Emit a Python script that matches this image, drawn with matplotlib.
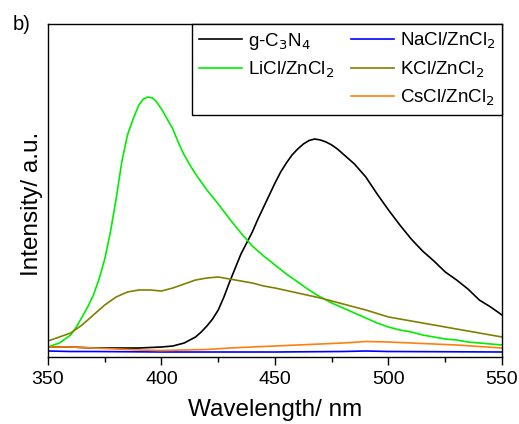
import numpy as np
import matplotlib.pyplot as plt

plt.rcParams['font.family'] = ['Liberation Sans', 'DejaVu Sans']

# values (arbitrary units), each series with its own wavelengths (nm)
wl_g = [350, 360, 370, 380, 390, 400, 405, 410, 412.5, 415, 417.5, 420, 422.5, 425,
        427.5, 430, 432.5, 435, 437.5, 440, 442.5, 445, 447.5, 450, 452.5, 455,
        457.5, 460, 462.5, 465, 467.5, 470, 472.5, 475, 477.5, 480, 485, 490,
        495, 500, 505, 510, 515, 520, 525, 530, 535, 540, 545, 550]
g_c3n4 = [10, 10, 9, 9, 9, 10, 11, 14, 17, 20, 25, 31, 38, 47,
          60, 75, 89, 103, 114, 125, 138, 150, 162, 174, 185, 194,
          202, 208, 213, 216.5, 218, 217, 215, 212, 208, 203, 193, 180,
          163, 147, 132, 118, 106, 96, 85, 77, 68, 57, 50, 42]

wl_li = [350, 355, 360, 362.5, 365, 367.5, 370, 372.5, 375, 377.5, 380, 382.5,
         385, 387.5, 390, 392, 394, 396, 397.5, 400, 402.5, 405, 407.5, 410,
         412.5, 415, 420, 425, 430, 435, 440, 445, 450, 455, 460, 465, 470,
         475, 480, 485, 490, 495, 500, 505, 510, 515, 520, 525, 530, 535, 540,
         545, 550]
licl = [10, 14, 22, 30, 40, 50, 62, 78, 98, 125, 158, 195,
        222, 238, 252, 258, 260, 259, 256, 248, 238, 228, 214, 202,
        192, 183, 167, 153, 138, 124, 111, 101, 92, 83, 75, 67, 60,
        54, 49, 44, 39, 34, 30, 27, 25, 22, 20, 18, 17, 15, 14,
        13, 12]

wl_na = [350, 360, 370, 400, 450, 480, 490, 500, 550]
nacl = [6, 5.5, 5.5, 5, 5, 5.5, 6, 5.5, 5]

wl_k = [350, 355, 360, 365, 370, 375, 380, 385, 390, 395, 400, 405, 410, 415,
        420, 425, 430, 435, 440, 445, 450, 460, 470, 480, 490, 500, 510, 520,
        530, 540, 550]
kcl = [16, 20, 24, 32, 42, 52, 60, 65, 67, 67, 66, 69, 73, 77,
       79, 80, 78, 76, 74, 71, 69, 64, 59, 53, 47, 40, 36, 32,
       28, 24, 20]

wl_cs = [350, 360, 370, 380, 390, 400, 410, 420, 430, 440, 450, 460, 470, 480,
         490, 500, 510, 520, 530, 540, 550]
cscl = [10, 10, 9, 8, 7, 6.5, 7, 7.5, 9, 10, 11, 12, 13, 14,
        15.5, 15, 14, 13, 12, 10.5, 9]

labels = ['g-C$_3$N$_4$', 'NaCl/ZnCl$_2$', 'LiCl/ZnCl$_2$', 'KCl/ZnCl$_2$', 'CsCl/ZnCl$_2$']

fig = plt.figure(figsize=(5.19, 4.24), dpi=100)
ax = fig.add_axes([48 / 519, 67 / 424, 454 / 519, 333 / 424])

lw = 1.2
h1, = ax.plot(wl_g, g_c3n4, color='black', lw=lw)
h2, = ax.plot(wl_na, nacl, color='#0000ff', lw=lw)
h3, = ax.plot(wl_li, licl, color='#00ee00', lw=lw)
h4, = ax.plot(wl_k, kcl, color='#808000', lw=lw)
h5, = ax.plot(wl_cs, cscl, color='#ff7f0e', lw=lw)

blank, = ax.plot([], [], color='none')
leg = ax.legend([h1, h3, blank, h2, h4, h5],
                [labels[0], labels[2], '', labels[1], labels[3], labels[4]],
                ncol=2, loc='upper right', borderaxespad=0, fontsize=13.5,
                fancybox=False, edgecolor='black', framealpha=1,
                handlelength=2.3, handletextpad=0.3, columnspacing=0.9,
                labelspacing=0.45, borderpad=0.35)
leg.get_frame().set_linewidth(1.0)

ax.set_xlim(350, 550)
ax.set_ylim(0, 333)
ax.set_xticks(np.arange(350, 551, 50))
ax.set_xticks(np.arange(375, 550, 50), minor=True)
ax.set_yticks([])
ax.tick_params(axis='x', direction='out', length=6, width=1.0, labelsize=14, pad=4)
ax.tick_params(axis='x', which='minor', direction='out', length=3.5, width=1.0)
for s in ax.spines.values():
    s.set_linewidth(1.0)

ax.set_xlabel('Wavelength/ nm', fontsize=17.5, labelpad=8)
ax.set_ylabel('Intensity/ a.u.', fontsize=17.5)
ax.yaxis.set_label_coords(-0.012, 0.46)

fig.text(13 / 519, 1 - 30 / 424, 'b)', fontsize=14.5)

fig.savefig('out.png', dpi=100)
